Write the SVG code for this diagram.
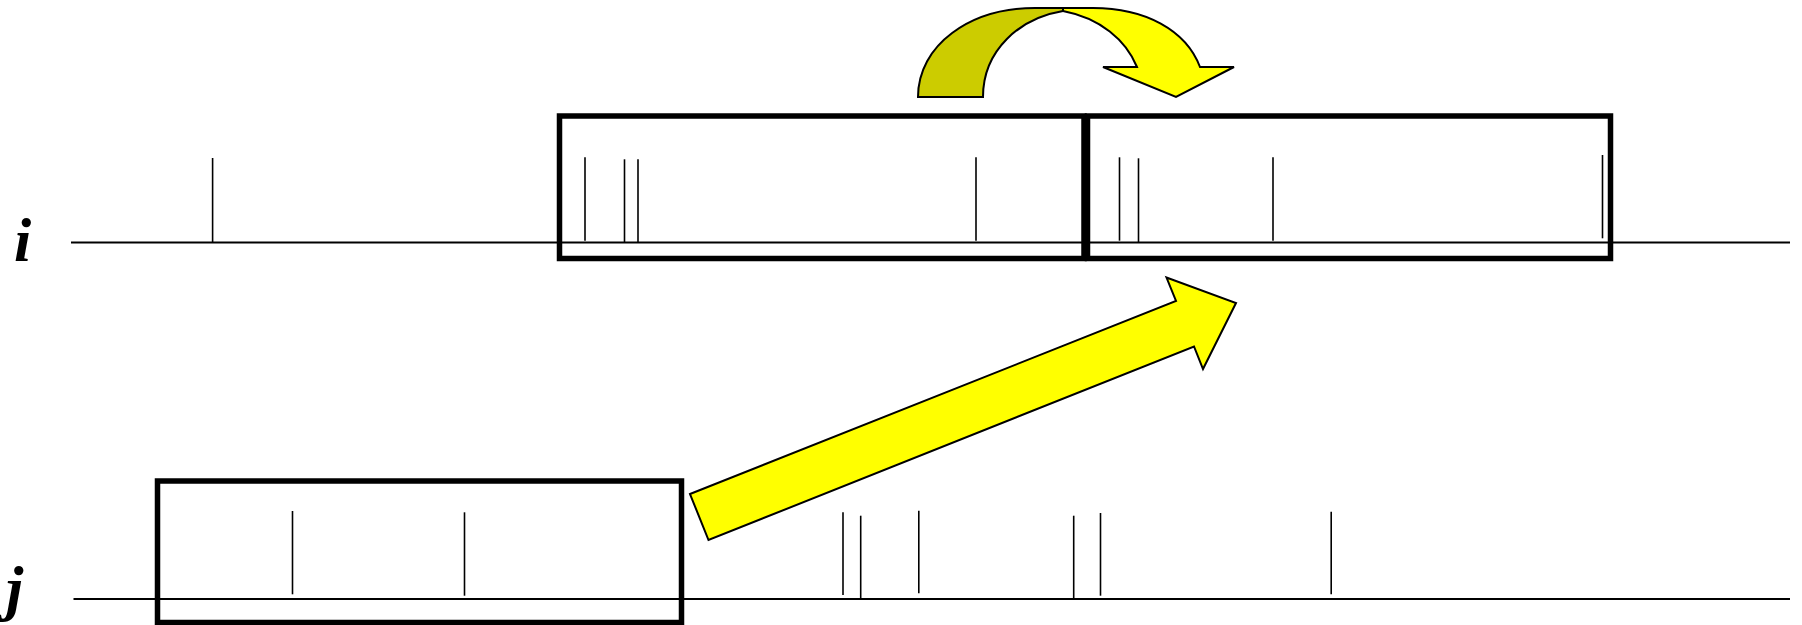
<svg xmlns="http://www.w3.org/2000/svg" width="1802" height="625" viewBox="0 0 1802 625">
<style>
.axis{stroke:#000;stroke-width:2;fill:none}
.tick{stroke:#000;stroke-width:1.6;fill:none}
.box{stroke:#000;stroke-width:5.5;fill:none}
.lbl{font-family:"Liberation Serif","Times New Roman",serif;font-weight:bold;font-style:italic;font-size:62px;fill:#000}
.arr{stroke:#000;stroke-width:2;stroke-linejoin:miter}
</style>
<rect width="1802" height="625" fill="#fff"/>
<g id="row-i">
<text class="lbl" x="14" y="261">i</text>
<line class="axis" x1="71" y1="242.5" x2="1790" y2="242.5"/>
<line class="tick" x1="212.6" y1="158" x2="212.6" y2="242.5"/>
<line class="tick" x1="585" y1="157.3" x2="585" y2="240.7"/>
<line class="tick" x1="624.5" y1="159.3" x2="624.5" y2="242.5"/>
<line class="tick" x1="638" y1="159.3" x2="638" y2="242.5"/>
<line class="tick" x1="976" y1="157.3" x2="976" y2="240.7"/>
<line class="tick" x1="1119.5" y1="157.3" x2="1119.5" y2="240.7"/>
<line class="tick" x1="1138.5" y1="158.3" x2="1138.5" y2="242.5"/>
<line class="tick" x1="1273" y1="157.3" x2="1273" y2="240.7"/>
<line class="tick" x1="1602.5" y1="155" x2="1602.5" y2="238.3"/>
</g>
<g id="row-j">
<text class="lbl" x="6" y="609">j</text>
<line class="axis" x1="73.5" y1="599" x2="1790" y2="599"/>
<line class="tick" x1="292.5" y1="511" x2="292.5" y2="594.3"/>
<line class="tick" x1="464.5" y1="512.3" x2="464.5" y2="595.7"/>
<line class="tick" x1="843" y1="512.3" x2="843" y2="595"/>
<line class="tick" x1="860.7" y1="515.7" x2="860.7" y2="599"/>
<line class="tick" x1="918.8" y1="510.7" x2="918.8" y2="593.3"/>
<line class="tick" x1="1073.7" y1="515.7" x2="1073.7" y2="599"/>
<line class="tick" x1="1100.5" y1="513" x2="1100.5" y2="595.7"/>
<line class="tick" x1="1331.2" y1="511.7" x2="1331.2" y2="594.3"/>
</g>
<g id="window-i-1">
<rect class="box" x="559.5" y="116" width="524.5" height="142.5"/>
</g>
<g id="window-i-2">
<rect class="box" x="1087.5" y="116" width="523" height="142.5"/>
</g>
<g id="window-j">
<rect class="box" x="157.5" y="481" width="524" height="141.5"/>
</g>
<g id="connectors">
<g id="curved-arrow">
<path class="arr" fill="#CCCC00" d="M918,97 C918,45 970,8 1035,8 L1093,8 L1063,11 C1020,18 983,50 983,97 Z"/>
<path class="arr" fill="#FFFF00" d="M1063,11 C1100,18 1126,40 1137,67 L1103,67 L1176,97 L1234,67 L1200,67 C1186,30 1145,8 1093,8 L1063,8 Z"/>
</g>
<path id="shift-arrow" class="arr" fill="#FFFF00" d="M690,494 L1176,301 L1166.5,277.5 L1236,303 L1203,369 L1194,346.5 L708.5,540 Z"/>
</g>
</svg>
